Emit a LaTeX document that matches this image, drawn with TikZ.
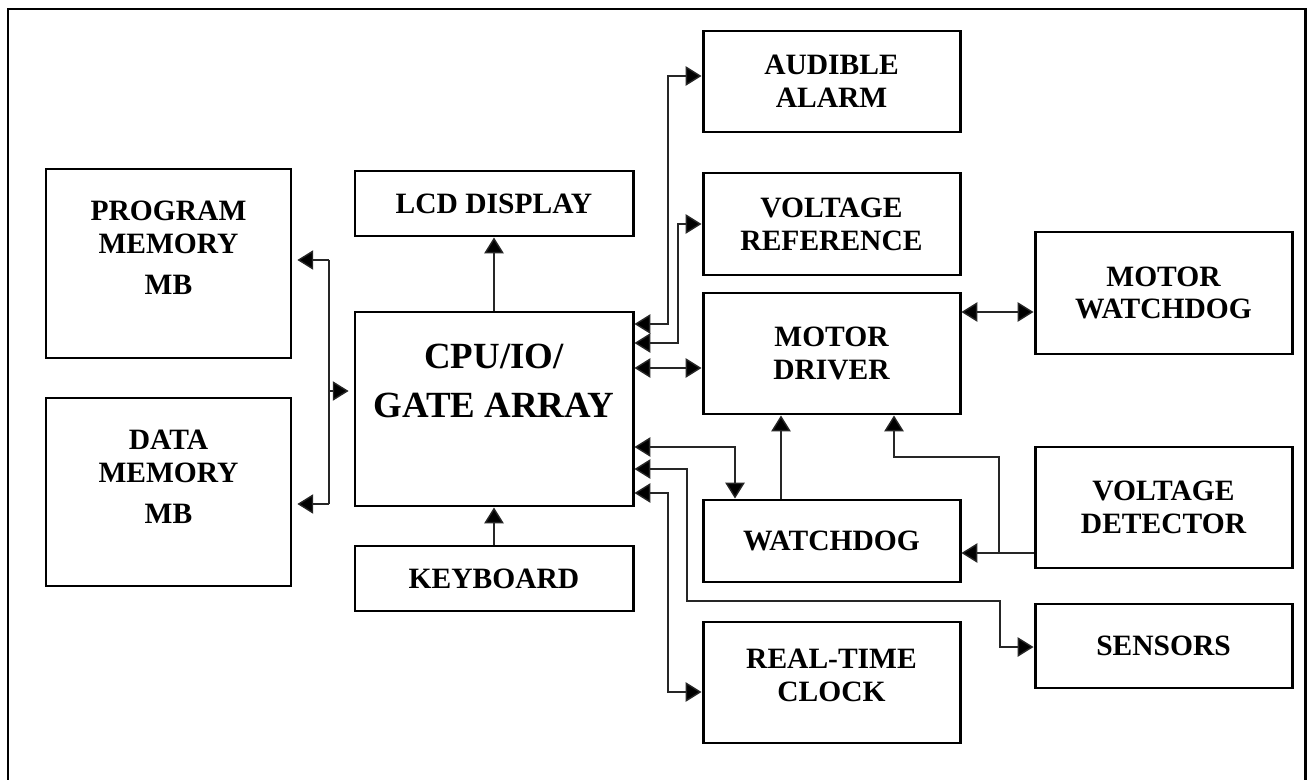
\documentclass[tikz,border=0pt]{standalone}
\usepackage{fontspec}
\setmainfont{Liberation Serif}
\usetikzlibrary{arrows.meta}
\tikzset{
  x=0.02cm, y=-0.02cm,
  box/.style 2 args={draw, line width=1.7pt, inner sep=0pt, align=center,
    minimum width=#1*0.02cm, minimum height=#2*0.02cm,
    font=\fontsize{16.8}{18.7}\selectfont\bfseries},
  lbl/.style={inner sep=0pt, align=center, font=\fontsize{16.8}{18.7}\selectfont\bfseries},
  conn/.style={line width=0.8pt, draw=black!85},
  tip/.tip={Triangle[length=9pt,width=11pt,fill=black]},
  arr/.style={conn, -tip},
  dbl/.style={conn, tip-tip},
}
\begin{document}
\begin{tikzpicture}
\useasboundingbox (0,0) rectangle (1308,780);
\draw[line width=1.7pt] (8,795) -- (8,9) -- (1305,9) -- (1305,795);

% boxes
\node[box={245}{189}] (prog) at (168.5,263.5) {};
\node[lbl] (progt) at (168.5,248) {PROGRAM\\MEMORY\\[5pt]MB};
\node[box={245}{188}] (data) at (168.5,492) {};
\node[lbl] (datat) at (168.5,477) {DATA\\MEMORY\\[5pt]MB};
\node[box={278}{65}] (lcd) at (494,203.5) {LCD DISPLAY};
\node[box={278}{194}] (cpu) at (494,409) {};
\node[lbl, font=\fontsize{21}{27.5}\selectfont\bfseries] (cput) at (494,381) {CPU/IO/\\GATE ARRAY};
\node[box={278}{65}] (kbd) at (494,578.5) {KEYBOARD};
\node[box={257}{101}] (alarm) at (831.5,81.5) {AUDIBLE\\ALARM};
\node[box={257}{102}] (vref) at (831.5,224) {VOLTAGE\\REFERENCE};
\node[box={257}{121}] (mdrv) at (831.5,353.5) {MOTOR\\DRIVER};
\node[box={257}{82}] (wdog) at (831.5,541) {WATCHDOG};
\node[box={257}{121}] (rtc) at (831.5,682.5) {};
\node[lbl] (rtct) at (831.5,675) {REAL-TIME\\CLOCK};
\node[box={257}{122}] (mwd) at (1163.5,293) {MOTOR\\WATCHDOG};
\node[box={257}{121}] (vdet) at (1163.5,507.5) {VOLTAGE\\DETECTOR};
\node[box={257}{84}] (sens) at (1163.5,646) {SENSORS};

% CPU up/down
\draw[arr] (cpu.north) -- (lcd.south);
\draw[arr] (kbd.north) -- (cpu.south);

% left bus
\coordinate (bt) at (329,260);
\coordinate (bb) at (329,504);
\coordinate (bm) at (329,391);
\draw[conn] (bt) -- (bb);
\draw[arr, shorten >=2.8pt] (bt) -- (bt -| prog.east);
\draw[arr, shorten >=2.8pt] (bb) -- (bb -| data.east);
\draw[arr, shorten >=2.8pt] (bm) -- (bm -| cpu.west);

% right side of CPU
\coordinate (a1) at (668,324);
\coordinate (a2) at (668,76);
\draw[dbl] (a1 -| cpu.east) -- (a1) -- (a2) -- (a2 -| alarm.west);
\coordinate (v1) at (678,343);
\coordinate (v2) at (678,224);
\draw[dbl] (v1 -| cpu.east) -- (v1) -- (v2) -- (v2 -| vref.west);
\coordinate (m1) at (668,368);
\draw[dbl] (m1 -| cpu.east) -- (m1 -| mdrv.west);
\coordinate (mw) at (1000,312);
\draw[dbl] (mw -| mdrv.east) -- (mw -| mwd.west);
\coordinate (w1) at (735,447);
\draw[dbl] (w1 -| cpu.east) -- (w1) -- (w1 |- wdog.north);
\coordinate (s1) at (687,469);
\coordinate (s2) at (687,601);
\coordinate (s3) at (1000,601);
\coordinate (s4) at (1000,647);
\draw[dbl] (s1 -| cpu.east) -- (s1) -- (s2) -- (s3) -- (s4) -- (s4 -| sens.west);
\coordinate (r1) at (668,493);
\coordinate (r2) at (668,692);
\draw[dbl] (r1 -| cpu.east) -- (r1) -- (r2) -- (r2 -| rtc.west);

% watchdog / voltage detector
\coordinate (wm) at (781,450);
\draw[arr] (wm |- wdog.north) -- (wm |- mdrv.south);
\coordinate (d1) at (999,553);
\coordinate (d2) at (999,457);
\coordinate (d3) at (894,457);
\draw[arr] (d1 -| vdet.west) -- (d1 -| wdog.east);
\draw[arr] (d1) -- (d2) -- (d3) -- (d3 |- mdrv.south);
\end{tikzpicture}
\end{document}
